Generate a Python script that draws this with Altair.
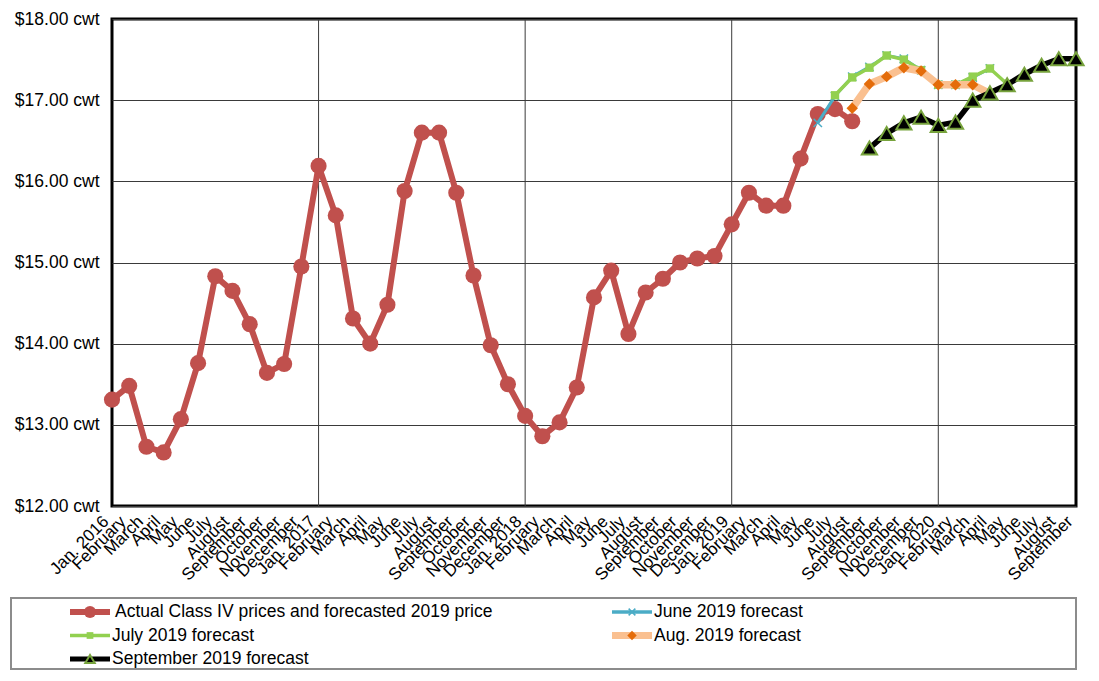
import json
import altair as alt
import pandas as pd

# ---------------- data ----------------
months = [
    "Jan. 2016", "February", "March", "April", "May", "June", "July", "August",
    "September", "October", "November", "December",
    "Jan. 2017", "February", "March", "April", "May", "June", "July", "August",
    "September", "October", "November", "December",
    "Jan. 2018", "February", "March", "April", "May", "June", "July", "August",
    "September", "October", "November", "December",
    "Jan. 2019", "February", "March", "April", "May", "June", "July", "August",
    "September", "October", "November", "December",
    "Jan. 2020", "February", "March", "April", "May", "June", "July", "August",
    "September",
]

series_names = [
    "Actual Class IV prices and forecasted 2019 price",
    "June 2019 forecast",
    "July 2019 forecast",
    "Aug. 2019 forecast",
    "September 2019 forecast",
]

actual_start = 0  # Jan. 2016
actual = [
    13.31, 13.48, 12.73, 12.66, 13.07, 13.76, 14.83, 14.65, 14.24, 13.64, 13.75, 14.95,
    16.19, 15.58, 14.31, 14.00, 14.48, 15.88, 16.60, 16.60, 15.86, 14.84, 13.98, 13.50,
    13.11, 12.86, 13.03, 13.46, 14.57, 14.90, 14.12, 14.63, 14.80, 15.00, 15.05, 15.08,
    15.47, 15.86, 15.70, 15.70, 16.28, 16.83, 16.89, 16.74,
]

june_start = 41  # June 2019
june_fc = [16.72, 17.05, 17.29, 17.41, 17.55, 17.51, 17.37, 17.19, 17.19, 17.28, 17.39]

july_start = 42  # July 2019
july_fc = [17.06, 17.28, 17.40, 17.55, 17.50, 17.37, 17.19, 17.19, 17.29, 17.39, 17.20]

aug_start = 43  # Aug. 2019
aug_fc = [16.90, 17.20, 17.29, 17.40, 17.36, 17.19, 17.19, 17.19, 17.08]

sep_start = 44  # September 2019
sep_fc = [16.41, 16.59, 16.72, 16.79, 16.69, 16.73, 17.00, 17.09, 17.19, 17.32, 17.43, 17.51, 17.51]

y_ticks = [12, 13, 14, 15, 16, 17, 18]

# ---------------- tables ----------------
series_values = [
    (actual_start, actual),
    (june_start, june_fc),
    (july_start, july_fc),
    (aug_start, aug_fc),
    (sep_start, sep_fc),
]
rows = []
for name, (start, vals) in zip(series_names, series_values):
    for k, v in enumerate(vals):
        rows.append({"series": name, "idx": start + k, "value": v})
df = pd.DataFrame(rows)

jan_df = pd.DataFrame({"idx": [i for i, m in enumerate(months) if m.startswith("Jan.") and i > 0]})

legend_df = pd.DataFrame({
    "series": series_names,
    "col": [i % 2 for i in range(len(series_names))],
    "row": [i // 2 for i in range(len(series_names))],
})

# ---------------- styles ----------------
XSHAPE = "M-1,-1L1,1M-1,1L1,-1"
styles = {
    series_names[0]: dict(line="#C0504D", lw=6, shape="circle", size=260, filled=True,
                          fill="#C0504D", stroke="#C0504D", sw=0, lg_size=150, lg_lw=6, dx=25),
    series_names[1]: dict(line="#4BACC6", lw=3, shape=XSHAPE, size=70, filled=False,
                          fill="#4BACC6", stroke="#4BACC6", sw=1.5, lg_size=45, lg_lw=3.5, dx=22),
    series_names[2]: dict(line="#92D050", lw=3.5, shape="square", size=70, filled=True,
                          fill="#92D050", stroke="#92D050", sw=0, lg_size=45, lg_lw=3.5, dx=22),
    series_names[3]: dict(line="#FAC090", lw=7.5, shape="diamond", size=130, filled=True,
                          fill="#E46C0A", stroke="#E46C0A", sw=0, lg_size=90, lg_lw=7, dx=22),
    series_names[4]: dict(line="#000000", lw=5.5, shape="triangle-up", size=230, filled=True,
                          fill="#000000", stroke="#77A33C", sw=2, lg_size=90, lg_lw=5, dx=22),
}

FONT = "Liberation Sans"
GRID = "#3a3a3a"
LEFT = 102      # room for the y-axis labels
PLOT_W = 964
PLOT_H = 487

labels_js = json.dumps(months)

x_enc = alt.X(
    "idx:Q",
    scale=alt.Scale(domain=[0, len(months) - 1], nice=False, zero=False),
    axis=alt.Axis(
        values=list(range(len(months))),
        labelExpr=f"{labels_js}[datum.value]",
        labelAngle=-45, labelAlign="right", labelBaseline="bottom",
        labelPadding=19, labelFontSize=17, labelOverlap=False, labelFlush=False,
        labelBound=False, grid=False, ticks=False, domain=False, title=None,
    ),
)
y_enc = alt.Y(
    "value:Q",
    scale=alt.Scale(domain=[y_ticks[0], y_ticks[-1]], nice=False, zero=False),
    axis=alt.Axis(
        values=y_ticks,
        labelExpr="'$' + format(datum.value, '.2f') + ' cwt'",
        labelFontSize=17.5, labelPadding=13, grid=True, gridColor=GRID, gridWidth=1,
        ticks=False, domain=False, title=None, minExtent=LEFT, maxExtent=LEFT,
    ),
)

layers = [
    alt.Chart(jan_df).mark_rule(color=GRID, strokeWidth=1).encode(x=x_enc)
]
for name in series_names:
    st = styles[name]
    sub = alt.Chart(df).transform_filter(alt.datum.series == name)
    layers.append(
        sub.mark_line(color=st["line"], strokeWidth=st["lw"], strokeJoin="round")
        .encode(x=x_enc, y=y_enc)
    )
    layers.append(
        sub.mark_point(shape=st["shape"], size=st["size"], filled=st["filled"],
                       fill=st["fill"] if st["filled"] else "transparent",
                       stroke=st["stroke"], strokeWidth=st["sw"], opacity=1)
        .encode(x=x_enc, y=y_enc)
    )

main = alt.layer(*layers).properties(
    width=PLOT_W, height=PLOT_H,
    view=alt.ViewBackground(stroke="black", strokeWidth=3),
)

# ---------------- legend panel ----------------
LEG_W = PLOT_W
LEG_H = 71
lx = alt.X("col:Q", scale=alt.Scale(domain=[0, 1], range=[80 - LEFT, 622 - LEFT]), axis=None)
ly = alt.Y("row:Q", scale=alt.Scale(domain=[0, 2], range=[14, 61]), axis=None)

box = alt.Chart(legend_df).transform_filter(alt.datum.row == 0).transform_filter(
    alt.datum.col == 0
).mark_rect(fill="transparent", stroke="#8c8c8c", strokeWidth=2).encode(
    x=alt.value(-LEFT + 1), x2=alt.value(LEG_W), y=alt.value(0), y2=alt.value(LEG_H)
)

leg_layers = [box]
for name in series_names:
    st = styles[name]
    sub = alt.Chart(legend_df).transform_filter(alt.datum.series == name)
    leg_layers.append(
        sub.mark_point(shape="M-1,0L1,0", size=1600, filled=False, stroke=st["line"],
                       strokeWidth=st["lg_lw"], strokeCap="butt", opacity=1)
        .encode(x=lx, y=ly)
    )
    leg_layers.append(
        sub.mark_point(shape=st["shape"], size=st["lg_size"], filled=st["filled"],
                       fill=st["fill"] if st["filled"] else "transparent",
                       stroke=st["stroke"], strokeWidth=st["sw"], opacity=1)
        .encode(x=lx, y=ly)
    )
    leg_layers.append(
        sub.mark_text(align="left", baseline="middle", dx=st["dx"], fontSize=17.5,
                      font=FONT, color="black")
        .encode(x=lx, y=ly, text="series:N")
    )

legend = alt.layer(*leg_layers).properties(
    width=LEG_W, height=LEG_H,
    view=alt.ViewBackground(stroke=None),
)

chart = (
    alt.vconcat(main, legend, spacing=12)
    .properties(padding={"left": 0, "top": 0, "right": 0, "bottom": 0}, background="white")
    .configure_axis(labelFont=FONT, labelColor="black")
    .configure_text(font=FONT)
)

chart.save("out.html", embed_options={"renderer": "svg", "actions": False})
